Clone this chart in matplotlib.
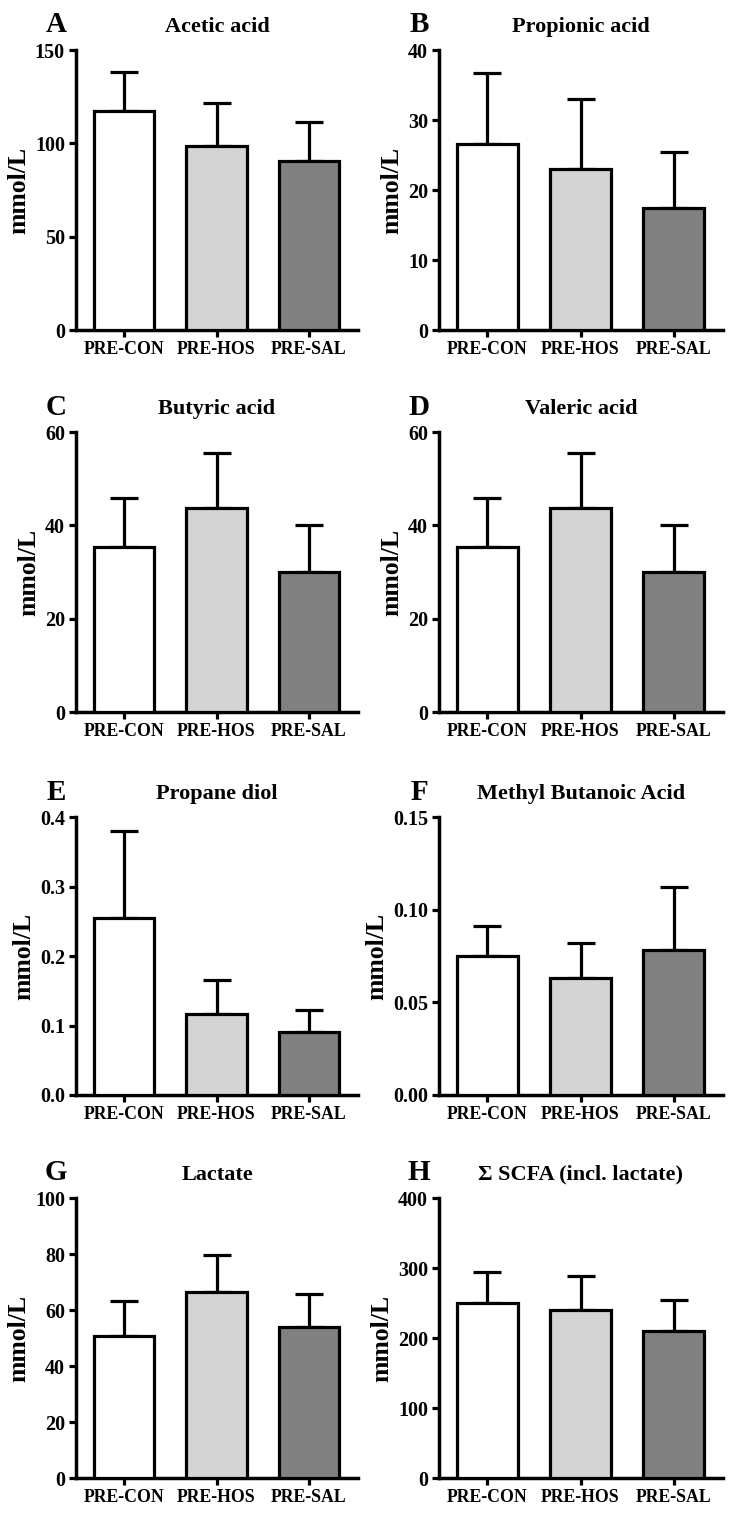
import matplotlib
matplotlib.use("Agg")
import matplotlib.pyplot as plt
from matplotlib.ticker import FormatStrFormatter
import numpy as np

plt.rcParams['font.family'] = ['Liberation Serif', 'DejaVu Serif']
plt.rcParams['font.weight'] = 'bold'

groups = ['PRE-CON', 'PRE-HOS', 'PRE-SAL']
bar_colours = ['#ffffff', '#d4d4d4', '#808080']

letters = ['A', 'B', 'C', 'D', 'E', 'F', 'G', 'H']
titles = ['Acetic acid', 'Propionic acid', 'Butyric acid', 'Valeric acid',
          'Propane diol', 'Methyl Butanoic Acid', 'Lactate', 'Σ SCFA (incl. lactate)']

acetic_mean = [117.5, 98.8, 90.6]
acetic_sd = [20.5, 22.8, 21.0]
propionic_mean = [26.6, 23.0, 17.4]
propionic_sd = [10.1, 10.0, 8.0]
butyric_mean = [35.3, 43.7, 30.0]
butyric_sd = [10.6, 11.8, 10.0]
valeric_mean = [35.3, 43.7, 30.0]
valeric_sd = [10.6, 11.8, 10.0]
propdiol_mean = [0.254, 0.117, 0.091]
propdiol_sd = [0.126, 0.048, 0.031]
mba_mean = [0.075, 0.063, 0.078]
mba_sd = [0.016, 0.019, 0.034]
lactate_mean = [50.8, 66.4, 53.8]
lactate_sd = [12.5, 13.1, 11.8]
scfa_mean = [250.0, 240.5, 210.5]
scfa_sd = [45.0, 48.5, 43.5]

means = [acetic_mean, propionic_mean, butyric_mean, valeric_mean,
         propdiol_mean, mba_mean, lactate_mean, scfa_mean]
sds = [acetic_sd, propionic_sd, butyric_sd, valeric_sd,
       propdiol_sd, mba_sd, lactate_sd, scfa_sd]

y_max = [150, 40, 60, 60, 0.4, 0.15, 100, 400]
y_step = [50, 10, 20, 20, 0.1, 0.05, 20, 100]
y_fmt = ['%d', '%d', '%d', '%d', '%.1f', '%.2f', '%d', '%d']

W, H = 733, 1518
fig = plt.figure(figsize=(W / 100, H / 100), dpi=100)

col_left = [76, 439]
col_right = [358, 723]
row_top = [50, 432, 817, 1198]
row_bot = [330, 712, 1095, 1478]

x = np.arange(3)
for i in range(8):
    r, c = i // 2, i % 2
    l, rr = col_left[c], col_right[c]
    t, b = row_top[r], row_bot[r]
    ax = fig.add_axes([l / W, 1 - b / H, (rr - l) / W, (b - t) / H])

    ax.bar(x, means[i], width=0.65, color=bar_colours, edgecolor='black',
           linewidth=2.3, zorder=3)
    ax.errorbar(x, means[i], yerr=[np.zeros(3), sds[i]], fmt='none',
                ecolor='black', elinewidth=2.3, capsize=10, capthick=2.3, zorder=2)

    ax.set_xlim(-0.52, 2.53)
    ax.set_ylim(0, y_max[i])
    ax.set_yticks(np.arange(0, y_max[i] + y_step[i] / 2, y_step[i]))
    ax.yaxis.set_major_formatter(FormatStrFormatter(y_fmt[i]))
    ax.set_xticks(x)
    ax.set_xticklabels(groups, fontsize=12.8, fontweight='bold')
    for lab in ax.get_yticklabels():
        lab.set_fontsize(14.5)
        lab.set_fontweight('bold')
    ax.tick_params(width=2.3, length=5, direction='out', pad=3)
    for s in ['top', 'right']:
        ax.spines[s].set_visible(False)
    for s in ['left', 'bottom']:
        ax.spines[s].set_linewidth(2.5)
    ax.set_ylabel('mmol/L', fontsize=18.5, fontweight='bold', labelpad=3)

    ax.set_title(titles[i], fontsize=16, fontweight='bold', pad=13)
    fig.text((l - 20) / W, 1 - (t - 25) / H, letters[i], fontsize=21,
             fontweight='bold', ha='center', va='center')

plt.savefig('out.png', dpi=100)
